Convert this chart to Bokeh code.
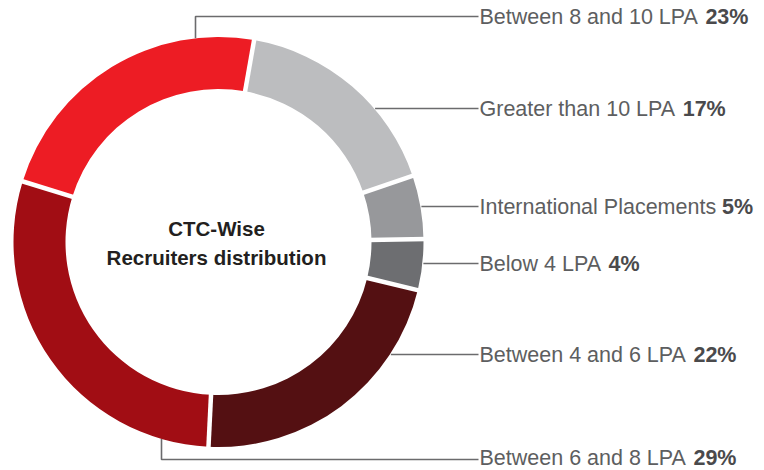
import math
from bokeh.plotting import figure
from bokeh.models import Range1d
from bokeh.core.properties import value
from bokeh.embed import file_html
from bokeh.resources import INLINE

# ---- data ----
categories = ["Greater than 10 LPA", "International Placements", "Below 4 LPA",
              "Between 4 and 6 LPA", "Between 6 and 8 LPA", "Between 8 and 10 LPA"]
shares = [17, 5, 4, 22, 29, 23]
pct_labels = ["17%", "5%", "4%", "22%", "29%", "23%"]
colors = ["#BCBDBF", "#97989B", "#6D6E71", "#541012", "#A10D14", "#ED1C24"]
title_lines = ["CTC-Wise", "Recruiters distribution"]

# ---- layout ----
W, H = 764, 470
CX, CY = 218, 241.5          # image coords
R_OUT, R_IN = 205, 153
START = 10.0                  # degrees clockwise from 12 o'clock
LABEL_X = 478
FS = 21.5

def Y(y):
    return H - y

p = figure(width=W, height=H, output_backend="svg", toolbar_location=None,
           x_range=Range1d(0, W), y_range=Range1d(0, H), min_border=0)
p.axis.visible = False
p.grid.visible = False
p.outline_line_color = None
p.background_fill_color = "white"
p.border_fill_color = "white"

total = sum(shares)
bounds = [START]
for s in shares:
    bounds.append(bounds[-1] + s / total * 360.0)

starts = [math.radians(90 - b) for b in bounds[:-1]]
ends = [math.radians(90 - b) for b in bounds[1:]]
p.annular_wedge(x=[CX] * len(shares), y=[Y(CY)] * len(shares),
                inner_radius=R_IN, outer_radius=R_OUT,
                start_angle=starts, end_angle=ends, direction="clock",
                fill_color=colors, line_color=None)

# white separators
x0s, y0s, x1s, y1s = [], [], [], []
for b in bounds[:-1]:
    a = math.radians(90 - b)
    x0s.append(CX + (R_IN - 3) * math.cos(a)); y0s.append(Y(CY) + (R_IN - 3) * math.sin(a))
    x1s.append(CX + (R_OUT + 3) * math.cos(a)); y1s.append(Y(CY) + (R_OUT + 3) * math.sin(a))
p.segment(x0=x0s, y0=y0s, x1=x1s, y1=y1s, line_color="white", line_width=4.5)

# ---- labels & leaders ----
label_y = [108, 206, 263, 354, 457, 16]   # image y for each category's text
line_y = [108, 206, 263, 354, 459, 16]    # image y for each leader line
elbow_x = {4: 161, 5: 195}

LINE_C = "#6b6b6d"
for i, cat in enumerate(categories):
    ly = line_y[i]
    if i in elbow_x:
        ex = elbow_x[i]
        dx = ex - CX
        ey = CY + math.sqrt(R_OUT ** 2 - dx ** 2) * (1 if ly > CY else -1)
        p.line(x=[ex, ex, LABEL_X], y=[Y(ey), Y(ly), Y(ly)], line_color=LINE_C, line_width=1.6)
    else:
        dy = ly - CY
        sx = CX + math.sqrt(R_OUT ** 2 - dy ** 2) + 1
        p.line(x=[sx, LABEL_X], y=[Y(ly), Y(ly)], line_color=LINE_C, line_width=1.6)

# Arial / Helvetica advance widths (per 1000 em) for placing the bold part
WID = {' ': 278, 'B': 667, 'e': 556, 't': 278, 'w': 722, 'n': 556, 'a': 556, 'd': 556,
       'L': 556, 'P': 667, 'A': 667, 'G': 778, 'r': 333, 'h': 556, 'I': 278, 'o': 556,
       'l': 222, 'c': 500, 'm': 833, 's': 500, 'p': 556, 'b': 556, 'i': 222}

def text_w(s, fs):
    return sum(WID.get(ch, 556) for ch in s) * fs / 1000.0

norm_x, norm_y, bold_x = [], [], []
for i, cat in enumerate(categories):
    norm_x.append(LABEL_X + 1)
    norm_y.append(Y(label_y[i]))
    bold_x.append(LABEL_X + 1 + text_w(cat + " ", FS))

p.text(x=norm_x, y=norm_y, text=categories, text_font=value("Liberation Sans"),
       text_font_size=f"{FS}px", text_color="#5d5e60", text_baseline="middle", text_align="left")
p.text(x=bold_x, y=norm_y, text=pct_labels, text_font=value("Liberation Sans"),
       text_font_size=f"{FS}px", text_font_style="bold", text_color="#4a4a4c",
       text_baseline="middle", text_align="left")

p.text(x=[216, 216], y=[Y(228), Y(257)], text=title_lines, text_font=value("Liberation Sans"),
       text_font_size="20.5px", text_font_style="bold", text_color="#231f20",
       text_baseline="middle", text_align="center")

open("out.html", "w").write(file_html(p, INLINE))
